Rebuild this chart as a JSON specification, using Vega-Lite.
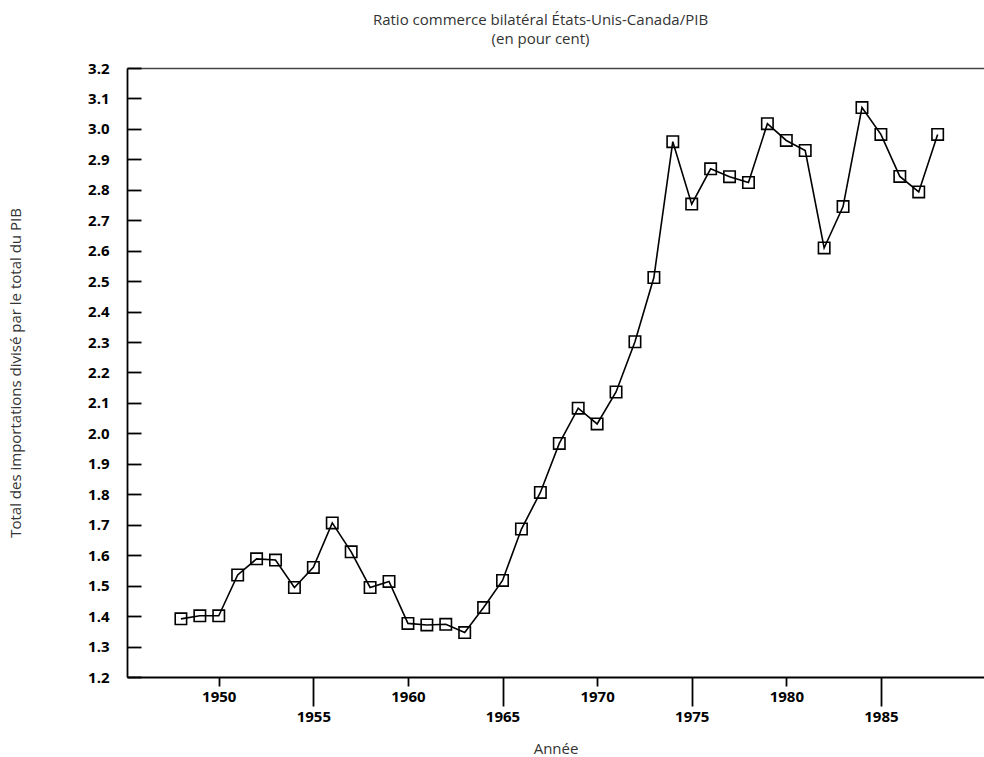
{
  "$schema": "https://vega.github.io/schema/vega-lite/v6.json",
  "width": 857,
  "height": 609,
  "autosize": "none",
  "padding": {"left": 127, "top": 68, "right": 0, "bottom": 80},
  "background": "white",
  "title": {
    "text": ["Ratio commerce bilatéral États-Unis-Canada/PIB", "(en pour cent)"],
    "font": "Open Sans",
    "fontSize": 15,
    "fontWeight": "normal",
    "color": "#333333",
    "anchor": "middle",
    "frame": "group",
    "dx": -15,
    "offset": 14,
    "lineHeight": 19
  },
  "config": {
    "view": {"stroke": null},
    "axis": {
      "labelFont": "Open Sans",
      "labelFontWeight": "bold",
      "labelFontSize": 15,
      "labelColor": "#000000",
      "titleFont": "Open Sans",
      "titleFontWeight": "normal",
      "titleFontSize": 15,
      "titleColor": "#333333",
      "domainColor": "#000000",
      "domainWidth": 1.8,
      "tickColor": "#000000",
      "tickWidth": 1.8,
      "grid": false
    }
  },
  "data": {
    "values": [
      {"year": 1948, "ratio": 1.391},
      {"year": 1949, "ratio": 1.401},
      {"year": 1950, "ratio": 1.401},
      {"year": 1951, "ratio": 1.535},
      {"year": 1952, "ratio": 1.588},
      {"year": 1953, "ratio": 1.584},
      {"year": 1954, "ratio": 1.494},
      {"year": 1955, "ratio": 1.560},
      {"year": 1956, "ratio": 1.706},
      {"year": 1957, "ratio": 1.611},
      {"year": 1958, "ratio": 1.494},
      {"year": 1959, "ratio": 1.514},
      {"year": 1960, "ratio": 1.376},
      {"year": 1961, "ratio": 1.371},
      {"year": 1962, "ratio": 1.373},
      {"year": 1963, "ratio": 1.346},
      {"year": 1964, "ratio": 1.428},
      {"year": 1965, "ratio": 1.517},
      {"year": 1966, "ratio": 1.686},
      {"year": 1967, "ratio": 1.806},
      {"year": 1968, "ratio": 1.967},
      {"year": 1969, "ratio": 2.083},
      {"year": 1970, "ratio": 2.031},
      {"year": 1971, "ratio": 2.136},
      {"year": 1972, "ratio": 2.301},
      {"year": 1973, "ratio": 2.512},
      {"year": 1974, "ratio": 2.958},
      {"year": 1975, "ratio": 2.753},
      {"year": 1976, "ratio": 2.869},
      {"year": 1977, "ratio": 2.843},
      {"year": 1978, "ratio": 2.824},
      {"year": 1979, "ratio": 3.017},
      {"year": 1980, "ratio": 2.962},
      {"year": 1981, "ratio": 2.929},
      {"year": 1982, "ratio": 2.609},
      {"year": 1983, "ratio": 2.745},
      {"year": 1984, "ratio": 3.070},
      {"year": 1985, "ratio": 2.982},
      {"year": 1986, "ratio": 2.844},
      {"year": 1987, "ratio": 2.793},
      {"year": 1988, "ratio": 2.982}
    ]
  },
  "resolve": {"axis": {"x": "independent"}},
  "layer": [
    {
      "mark": {"type": "line", "color": "#000000", "strokeWidth": 1.6},
      "encoding": {
        "x": {
          "field": "year",
          "type": "quantitative",
          "scale": {"domain": [1945.15, 1990.45], "nice": false, "zero": false},
          "axis": {
            "title": "Année",
            "titlePadding": 17,
            "values": [1950, 1955, 1960, 1965, 1970, 1975, 1980, 1985],
            "format": "d",
            "labelFlush": false,
            "labelOverlap": false,
            "tickSize": {"condition": {"test": "datum.value % 10 == 5", "value": 29}, "value": 9},
            "labelPadding": {"condition": {"test": "datum.value % 10 == 5", "value": 3}, "value": 3}
          }
        },
        "y": {
          "field": "ratio",
          "type": "quantitative",
          "scale": {"domain": [1.2, 3.2], "nice": false, "zero": false},
          "axis": {
            "title": "Total des importations divisé par le total du PIB",
            "titlePadding": 64,
            "values": [1.2, 1.3, 1.4, 1.5, 1.6, 1.7, 1.8, 1.9, 2.0, 2.1, 2.2, 2.3, 2.4, 2.5, 2.6, 2.7, 2.8, 2.9, 3.0, 3.1, 3.2],
            "format": ".1f",
            "tickSize": -14,
            "labelPadding": 32,
            "labelFlush": false,
            "labelOverlap": false
          }
        }
      }
    },
    {
      "mark": {"type": "point", "shape": "square", "size": 130, "filled": false, "color": "#000000", "strokeWidth": 1.6, "opacity": 1},
      "encoding": {
        "x": {
          "field": "year",
          "type": "quantitative",
          "axis": {"orient": "top", "labels": false, "ticks": false, "title": null, "domainColor": "#444444", "domainWidth": 1.5}
        },
        "y": {
          "field": "ratio",
          "type": "quantitative",
          "axis": {
            "title": "Total des importations divisé par le total du PIB",
            "titlePadding": 64,
            "values": [1.2, 1.3, 1.4, 1.5, 1.6, 1.7, 1.8, 1.9, 2.0, 2.1, 2.2, 2.3, 2.4, 2.5, 2.6, 2.7, 2.8, 2.9, 3.0, 3.1, 3.2],
            "format": ".1f",
            "tickSize": -14,
            "labelPadding": 32,
            "labelFlush": false,
            "labelOverlap": false
          }
        }
      }
    }
  ]
}
